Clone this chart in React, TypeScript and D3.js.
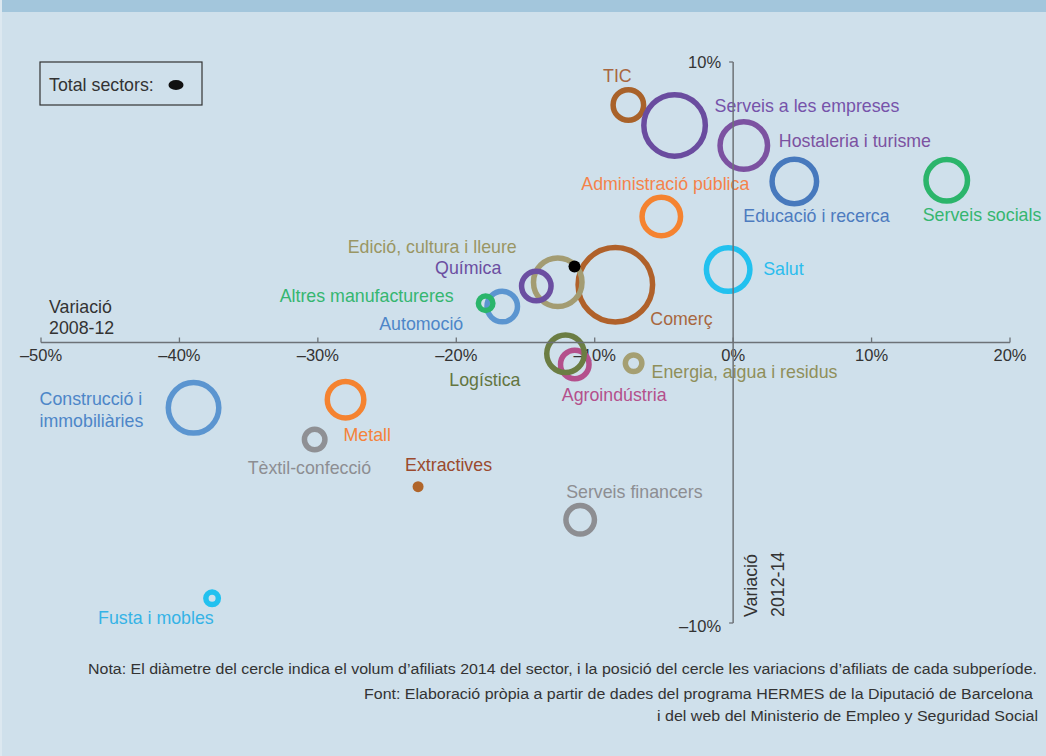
import React from "react";
import * as d3 from "d3";

// ---------- DATA ----------
const sectors = [
  "Comerç",
  "Edició, cultura i lleure",
  "Química",
  "Automoció",
  "Altres manufactureres",
  "Agroindústria",
  "Logística",
  "Energia, aigua i residus",
  "TIC",
  "Serveis a les empreses",
  "Hostaleria i turisme",
  "Administració pública",
  "Educació i recerca",
  "Serveis socials",
  "Salut",
  "Construcció i\nimmobiliàries",
  "Metall",
  "Tèxtil-confecció",
  "Extractives",
  "Serveis financers",
  "Fusta i mobles",
];
// x: variació 2008-12 (%)
const var2008_12 = [-8.51, -12.67, -14.22, -16.68, -17.88, -11.44, -12.11, -7.19, -7.57, -4.23, 0.77, -5.19, 4.42, 15.43, -0.36, -38.98, -28.0, -30.23, -22.76, -11.05, -37.64];
// y: variació 2012-14 (%)
const var2012_14 = [2.06, 2.15, 2.01, 1.28, 1.4, -0.78, -0.4, -0.74, 8.47, 7.74, 7.02, 4.49, 5.74, 5.78, 2.6, -2.33, -2.04, -3.46, -5.14, -6.32, -9.12];
// volum d'afiliats 2014 (relative index, proportional to diameter)
const afiliats2014 = [80, 54, 35, 36, 20, 34, 43, 22, 36, 67, 53, 44, 50, 47, 49, 56, 42, 26, 11, 34, 18];

const totalX = -11.46;
const totalY = 2.71;

const xTicks = [-50, -40, -30, -20, -10, 0, 10, 20];
const yTicks = [-10, 10];

const notes = [
  "Nota: El diàmetre del cercle indica el volum d’afiliats 2014 del sector, i la posició del cercle les variacions d’afiliats de cada subperíode.",
  "Font: Elaboració pròpia a partir de dades del programa HERMES de la Diputació de Barcelona",
  "i del web del Ministerio de Empleo y Seguridad Social",
];

// ---------- STYLES ----------
const ringColors = [
  "#b0612a", "#a39c72", "#6b4ea1", "#5b95d0", "#2ab56b", "#b4508c", "#6b7d43", "#a59f72",
  "#a9622a", "#6a4c9f", "#7c52a1", "#f58330", "#4779bd", "#2bb56b", "#22c1ef",
  "#5b95d0", "#f58330", "#8f9094", "#b0652a", "#8d8e92", "#22c1ef",
];
const labelColors = [
  "#a8673f", "#9a9664", "#6b4ea1", "#4d86c8", "#35b670", "#b4508c", "#63753f", "#8f8f5a",
  "#a8673f", "#7653aa", "#7c52a1", "#f5834a", "#4d7bbf", "#35b670", "#2bbdee",
  "#4d86c8", "#f5833a", "#8d8e92", "#9b4a2e", "#8d8e92", "#35b3e6",
];
// label offsets relative to circle centre: [dx, dy, anchor]
const labelLayout: [number, number, string][] = [
  [35, 40, "start"],
  [-210, -29, "start"],
  [-35, -12, "end"],
  [-39, 23, "end"],
  [-32, -1, "end"],
  [-13, 37, "start"],
  [-45, 32, "end"],
  [18, 15, "start"],
  [-11, -23, "middle"],
  [40, -13, "start"],
  [35, 1, "start"],
  [-80, -27, "start"],
  [-51, 41, "start"],
  [-24, 41, "start"],
  [35, 5, "start"],
  [-154, -3, "start"],
  [-2, 41, "start"],
  [-67, 34, "start"],
  [-13, -16, "start"],
  [-14, -22, "start"],
  [-114, 26, "start"],
];

const W = 1046;
const H = 756;
const FONT = "'Liberation Sans', Arial, Helvetica, sans-serif";
const STROKE = 5.5;
const AXIS = "#6d7277";
const TEXT = "#333333";

export default function App() {
  const x = d3.scaleLinear().domain([-50, 20]).range([41, 1010]);
  const y = d3.scaleLinear().domain([-10, 10]).range([623, 62]);
  const diam = d3.scaleLinear().domain([0, 100]).range([0, 100]);

  const x0 = x(0);
  const y0 = y(0);

  return (
    <svg
      width={W}
      height={H}
      style={{ position: "absolute", left: 0, top: 0, fontFamily: FONT }}
    >
      <rect x={0} y={0} width={W} height={H} fill="#cfe0eb" />
      <rect x={0} y={0} width={W} height={12} fill="#a3c6dc" />
      <rect x={0} y={0} width={2} height={H} fill="#dce8f0" />

      {/* legend */}
      <rect x={40} y={62} width={162} height={43} fill="none" stroke="#333" strokeWidth={1.2} />
      <text x={49} y={91} fontSize={17.8} fill={TEXT}>Total sectors:</text>
      <ellipse cx={176} cy={85} rx={7.5} ry={5} fill="#111" />

      {/* tick labels */}
      {xTicks.map((t) => (
        <text key={"xt" + t} x={x(t)} y={361} fontSize={16.5} fill={TEXT} textAnchor="middle">
          {t < 0 ? "–" + Math.abs(t) + "%" : t + "%"}
        </text>
      ))}
      {yTicks.map((t) => (
        <text key={"yt" + t} x={x0 - 12} y={y(t) + (t > 0 ? 6 : 9)} fontSize={16.5} fill={TEXT} textAnchor="end">
          {t < 0 ? "–" + Math.abs(t) + "%" : t + "%"}
        </text>
      ))}

      {/* axis titles */}
      <text x={49} y={313} fontSize={17.8} fill={TEXT}>Variació</text>
      <text x={49} y={334} fontSize={17.8} fill={TEXT}>2008-12</text>
      <text transform={`translate(${x0 + 24},617) rotate(-90)`} fontSize={17.8} fill={TEXT}>Variació</text>
      <text transform={`translate(${x0 + 51},617) rotate(-90)`} fontSize={17.8} fill={TEXT}>2012-14</text>

      {/* labels */}
      {sectors.map((s, i) => {
        const cx = x(var2008_12[i]);
        const cy = y(var2012_14[i]);
        const [dx, dy, anchor] = labelLayout[i];
        const lines = s.split("\n");
        return (
          <text key={"l" + i} x={cx + dx} y={cy + dy} fontSize={17.8} fill={labelColors[i]} textAnchor={anchor}>
            {lines.map((ln, j) => (
              <tspan key={j} x={cx + dx} dy={j === 0 ? 0 : 22.5}>{ln}</tspan>
            ))}
          </text>
        );
      })}

      {/* bubbles */}
      {sectors.map((s, i) => {
        const r = Math.max(diam(afiliats2014[i]) / 2 - STROKE / 2, 0.5);
        const outer = diam(afiliats2014[i]) / 2;
        const filled = outer <= STROKE;
        return filled ? (
          <circle key={"c" + i} cx={x(var2008_12[i])} cy={y(var2012_14[i])} r={outer} fill={ringColors[i]} />
        ) : (
          <circle
            key={"c" + i}
            cx={x(var2008_12[i])}
            cy={y(var2012_14[i])}
            r={r}
            fill="none"
            stroke={ringColors[i]}
            strokeWidth={STROKE}
          />
        );
      })}

      {/* total */}
      <circle cx={x(totalX)} cy={y(totalY)} r={6} fill="#000" />

      {/* axes */}
      <line x1={x(-50)} x2={x(20)} y1={y0} y2={y0} stroke={AXIS} strokeWidth={1.5} />
      {xTicks.map((t) => (
        <line key={"xtk" + t} x1={x(t)} x2={x(t)} y1={y0} y2={y0 - 5} stroke={AXIS} strokeWidth={1.3} />
      ))}
      <line x1={x0} x2={x0} y1={y(10)} y2={y(-10)} stroke={AXIS} strokeWidth={1.5} />
      {yTicks.map((t) => (
        <line key={"ytk" + t} x1={x0} x2={x0 - 4} y1={y(t)} y2={y(t)} stroke={AXIS} strokeWidth={1.3} />
      ))}

      {/* notes */}
      <text x={1037} y={674} fontSize={14} fill={TEXT} textAnchor="end" textLength={949} lengthAdjust="spacingAndGlyphs">{notes[0]}</text>
      <text x={1033} y={699} fontSize={14} fill={TEXT} textAnchor="end" textLength={669} lengthAdjust="spacingAndGlyphs">{notes[1]}</text>
      <text x={1038} y={721} fontSize={14} fill={TEXT} textAnchor="end" textLength={381} lengthAdjust="spacingAndGlyphs">{notes[2]}</text>
    </svg>
  );
}
